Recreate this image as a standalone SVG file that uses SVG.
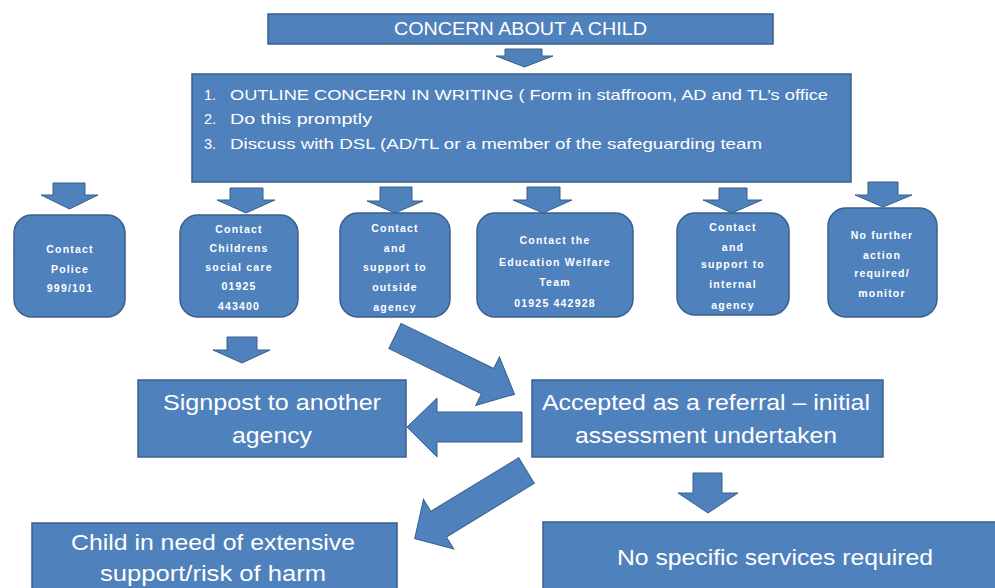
<svg xmlns="http://www.w3.org/2000/svg" width="995" height="588" viewBox="0 0 995 588">
<style>
.box{fill:#4F81BD;stroke:#3A5F8B;stroke-width:1.5}
.arr{fill:#4F81BD;stroke:#3A5F8B;stroke-width:1}
.t{fill:#fff;font-family:"Liberation Sans",Arial,sans-serif}
.big{font-size:22px;text-anchor:middle}
.mid{font-size:14.5px}
.sm{font-size:10.5px;font-weight:bold;text-anchor:middle;letter-spacing:1.2px}
</style>
<rect width="995" height="588" fill="#fff"/>
<g id="connectors">
<path class="arr" d="M505,49H542V56H553L524.5,67L496,56H505Z"/>
<path class="arr" d="M53,183H85V195H98L69.5,209L41,195H53Z"/>
<path class="arr" d="M230,188H263V200H275L246,213L217,200H230Z"/>
<path class="arr" d="M380,187H412V201H423L395,213L367,201H380Z"/>
<path class="arr" d="M527,187H560V200H572L543,213L513,200H527Z"/>
<path class="arr" d="M719,188H747V200H762L732,213L703,200H719Z"/>
<path class="arr" d="M868,182H898V195H912L883,207L855,195H868Z"/>
<path class="arr" d="M227,337H257V350H270L242,363L213,350H227Z"/>
<path class="arr" d="M693,473H722V493H738L708,513L678,493H693Z"/>
<path class="arr" d="M522,412L437,412L437,398L407,427L437,457L437,442L522,442Z"/>
<polygon class="arr" transform="translate(395,336) rotate(26)" points="0,-14 103,-14 103,-27 133,0 103,27 103,14 0,14"/>
<polygon class="arr" transform="translate(526.5,470.5) rotate(148.6)" points="0,-15 103,-15 103,-29 131,0 103,29 103,15 0,15"/>
</g>
<g id="concern">
<rect class="box" x="268" y="14" width="505" height="30"/>
<text class="t" x="520.5" y="35" font-size="18" text-anchor="middle" textLength="253" lengthAdjust="spacingAndGlyphs">CONCERN ABOUT A CHILD</text>
</g>
<g id="outline">
<rect class="box" x="192" y="74" width="659" height="108"/>
<text class="t mid" x="204" y="100">1.</text>
<text class="t mid" x="230" y="100" textLength="598" lengthAdjust="spacingAndGlyphs">OUTLINE  CONCERN IN WRITING   ( Form in staffroom, AD and TL’s office</text>
<text class="t mid" x="204" y="124">2.</text>
<text class="t mid" x="230" y="124" textLength="142" lengthAdjust="spacingAndGlyphs">Do this promptly</text>
<text class="t mid" x="204" y="149">3.</text>
<text class="t mid" x="230" y="149" textLength="532" lengthAdjust="spacingAndGlyphs">Discuss with DSL (AD/TL or a member  of the safeguarding  team</text>
</g>
<g id="police">
<rect class="box" x="14" y="215" width="111" height="102" rx="18"/>
<text class="t sm" x="70" y="253">Contact</text>
<text class="t sm" x="70" y="273">Police</text>
<text class="t sm" x="70" y="292">999/101</text>
</g>
<g id="social-care">
<rect class="box" x="180" y="215" width="118" height="102" rx="18"/>
<text class="t sm" x="239" y="233">Contact</text>
<text class="t sm" x="239" y="252">Childrens</text>
<text class="t sm" x="239" y="271">social care</text>
<text class="t sm" x="239" y="290">01925</text>
<text class="t sm" x="239" y="310">443400</text>
</g>
<g id="outside-agency">
<rect class="box" x="340" y="213" width="110" height="104" rx="18"/>
<text class="t sm" x="395" y="232">Contact</text>
<text class="t sm" x="395" y="252">and</text>
<text class="t sm" x="395" y="271">support to</text>
<text class="t sm" x="395" y="291">outside</text>
<text class="t sm" x="395" y="311">agency</text>
</g>
<g id="education-welfare">
<rect class="box" x="477" y="213" width="156" height="104" rx="18"/>
<text class="t sm" x="555" y="244">Contact the</text>
<text class="t sm" x="555" y="266">Education Welfare</text>
<text class="t sm" x="555" y="286">Team</text>
<text class="t sm" x="555" y="307" letter-spacing="2.5">01925 442928</text>
</g>
<g id="internal-agency">
<rect class="box" x="677" y="213" width="112" height="102" rx="18"/>
<text class="t sm" x="733" y="231">Contact</text>
<text class="t sm" x="733" y="251">and</text>
<text class="t sm" x="733" y="268">support to</text>
<text class="t sm" x="733" y="288">internal</text>
<text class="t sm" x="733" y="309">agency</text>
</g>
<g id="no-further-action">
<rect class="box" x="828" y="208" width="109" height="109" rx="18"/>
<text class="t sm" x="882" y="239">No further</text>
<text class="t sm" x="882" y="259">action</text>
<text class="t sm" x="882" y="277">required/</text>
<text class="t sm" x="882" y="297">monitor</text>
</g>
<g id="signpost">
<rect class="box" x="138" y="380" width="268" height="77"/>
<text class="t big" x="272" y="410" textLength="218" lengthAdjust="spacingAndGlyphs">Signpost to another</text>
<text class="t big" x="272" y="443" textLength="80" lengthAdjust="spacingAndGlyphs">agency</text>
</g>
<g id="accepted">
<rect class="box" x="532" y="380" width="351" height="77"/>
<text class="t big" x="706" y="410" textLength="328" lengthAdjust="spacingAndGlyphs">Accepted as a referral – initial</text>
<text class="t big" x="706" y="443" textLength="262" lengthAdjust="spacingAndGlyphs">assessment undertaken</text>
</g>
<g id="child-in-need">
<rect class="box" x="32" y="523" width="365" height="75"/>
<text class="t big" x="213" y="550" textLength="284" lengthAdjust="spacingAndGlyphs">Child in need of extensive</text>
<text class="t big" x="213" y="581" textLength="226" lengthAdjust="spacingAndGlyphs">support/risk of harm</text>
</g>
<g id="no-specific-services">
<rect class="box" x="543" y="522" width="460" height="76"/>
<text class="t big" x="775" y="565" textLength="316" lengthAdjust="spacingAndGlyphs">No specific services required</text>
</g>
</svg>
